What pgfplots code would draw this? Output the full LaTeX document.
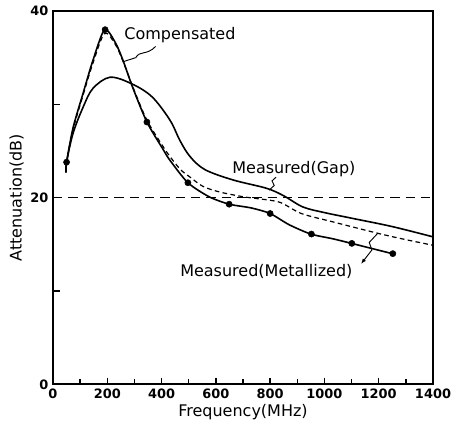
\documentclass[border=0pt]{standalone}
\usepackage{pgfplots}
\pgfplotsset{compat=1.18}
\usepackage{fontspec}
\setmainfont{DejaVu Sans}
\usetikzlibrary{arrows.meta}
\begin{document}
\begin{tikzpicture}
\begin{axis}[
  scale only axis,
  width=285pt, height=280pt,
  xmin=0, xmax=1400, ymin=0, ymax=40,
  xtick={0,200,...,1400},
  minor xtick={100,300,...,1300},
  ytick={0,10,20,30,40},
  yticklabels={0,,20,,40},
  xtick pos=bottom, ytick pos=left,
  tick align=inside,
  major tick length=5pt, minor tick length=4pt,
  axis line style={line width=1.4pt},
  every tick/.style={line width=1.1pt, black},
  tick label style={font=\fontsize{9.7}{10}\selectfont\bfseries},
  /pgf/number format/assume math mode=true,
  /pgf/number format/1000 sep={},
  xlabel={Frequency(MHz)}, ylabel={Attenuation(dB)},
  label style={font=\fontsize{12}{12}\selectfont},
  xlabel style={yshift=2.5pt},
  ylabel style={yshift=-2pt},
  clip=false,
]
% 20 dB reference line
\addplot[black, line width=0.9pt, dash pattern=on 7pt off 4.5pt] coordinates {(0,20) (1400,20)};
% Measured (Metallized)
\addplot[black, line width=1.2pt, smooth, tension=0.45] coordinates {
 (48,22.7) (50,23.8) (74,27.5) (111,31.2) (147,34.7) (190,38.0) (230,36.6) (258,34.7) (295,31.7) (346,28.1) (405,25.2) (431,24.0) (497,21.6) (575,20.1) (649,19.3) (730,18.9) (800,18.3) (870,17.1) (950,16.1) (1030,15.6) (1100,15.1) (1250,14.0)};
\addplot[only marks, mark=*, mark size=2.3pt, black] coordinates {
 (50,23.8) (192,38.0) (346,28.1) (497,21.6) (649,19.3) (800,18.3) (952,16.1) (1101,15.1) (1252,14.0)};
% Compensated (dashed)
\addplot[black, line width=0.9pt, dash pattern=on 3.5pt off 2.5pt, smooth, tension=0.5] coordinates {
 (48,22.7) (50,23.8) (74,27.3) (111,31.0) (147,34.4) (190,37.6) (230,36.4) (258,34.6) (295,31.8) (346,28.3) (405,25.5) (431,24.4) (470,23.0) (505,22.2) (553,21.2) (615,20.6) (700,20.1) (752,19.9) (836,19.5) (915,18.3) (1032,17.4) (1194,16.2) (1300,15.5) (1400,14.9)};
% Measured (Gap)
\addplot[black, line width=1.2pt, smooth, tension=0.55] coordinates {
 (48,22.7) (50,23.8) (74,26.9) (111,29.7) (147,31.7) (210,32.9) (290,32.2) (365,30.8) (431,28.3) (468,26.1) (505,24.4) (560,23.0) (663,21.9) (787,21.0) (850,20.2) (921,19.0) (1000,18.4) (1100,17.8) (1250,16.9) (1400,15.8)};
% annotations
\node[anchor=west, font=\fontsize{12}{12}\selectfont, inner sep=0pt] at (axis cs:262,37.4) {Compensated};
\draw[line width=0.7pt] (axis cs:378,36.2) .. controls (axis cs:345,35.2) and (axis cs:320,35.8) .. (axis cs:305,35.0) -- (axis cs:262,34.6);
\node[anchor=west, font=\fontsize{12}{12}\selectfont, inner sep=0pt] at (axis cs:660,23.1) {Measured(Gap)};
\draw[line width=0.7pt] (axis cs:822,22.2) -- (axis cs:807,21.8) -- (axis cs:815,21.3) -- (axis cs:796,20.8);
\node[anchor=west, font=\fontsize{12}{12}\selectfont, inner sep=0pt] at (axis cs:468,12.1) {Measured(Metallized)};
\draw[line width=0.7pt, {Latex[length=4pt,width=3pt]}-] (axis cs:1135,12.9) -- (axis cs:1175,14.4) -- (axis cs:1165,15.2) -- (axis cs:1197,16.2);
\coordinate (sw) at (rel axis cs:0,0);
\coordinate (ne) at (rel axis cs:1,1);
\end{axis}
\pgfresetboundingbox
\path[use as bounding box] ([shift={(-39.75pt,-29.25pt)}]sw) rectangle ([shift={(13.5pt,8.25pt)}]ne);
\end{tikzpicture}
\end{document}
